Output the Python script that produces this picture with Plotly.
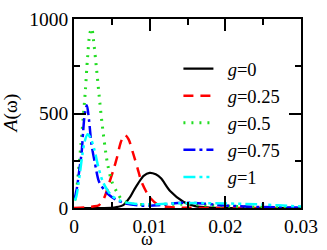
import plotly.graph_objects as go

# ---- data ----
w_g0 = [0, 0.004, 0.0055, 0.0065, 0.0074, 0.008, 0.0085, 0.0092, 0.01, 0.0108, 0.0115, 0.0127, 0.0145, 0.016, 0.018, 0.02, 0.03]
a_g0 = [0, 0, 4, 15, 57, 100, 132, 170, 186, 178, 157, 90, 32, 10, 2, 0, 0]

w_g025 = [0, 0.0015, 0.0025, 0.0033, 0.004, 0.0046, 0.0052, 0.0057, 0.0062, 0.0067, 0.0072, 0.0078, 0.0084, 0.0089, 0.0095, 0.01, 0.011, 0.012, 0.014, 0.02, 0.03]
a_g025 = [0, 3, 8, 15, 55, 126, 200, 270, 350, 387, 365, 291, 210, 141, 90, 57, 20, 8, 2, 0, 0]

w_g05 = [0.0001, 0.0003, 0.0006, 0.0009, 0.0012, 0.0015, 0.0018, 0.0021, 0.00235, 0.0026, 0.003, 0.0033, 0.0037, 0.0044, 0.005, 0.0057, 0.0063, 0.007, 0.008, 0.01, 0.012, 0.015, 0.018, 0.02, 0.025, 0.03]
a_g05 = [40, 80, 200, 330, 470, 620, 800, 925, 950, 880, 727, 603, 450, 241, 140, 82, 45, 28, 20, 18, 20, 20, 14, 10, 4, 2]

w_g075 = [0.0001, 0.0004, 0.0007, 0.001, 0.0012, 0.0014, 0.0017, 0.002, 0.0023, 0.0028, 0.0033, 0.004, 0.0046, 0.0055, 0.007, 0.009, 0.011, 0.013, 0.015, 0.017, 0.019, 0.022, 0.025, 0.03]
a_g075 = [50, 110, 200, 290, 400, 490, 543, 460, 340, 230, 140, 95, 70, 45, 22, 12, 14, 24, 28, 24, 16, 9, 5, 2]

w_g1 = [0.0001, 0.0003, 0.0006, 0.0008, 0.0011, 0.0014, 0.0018, 0.0022, 0.0027, 0.0032, 0.0038, 0.0044, 0.005, 0.006, 0.007, 0.009, 0.011, 0.013, 0.016, 0.02, 0.024, 0.027, 0.03]
a_g1 = [40, 60, 130, 190, 280, 350, 390, 370, 308, 220, 140, 95, 65, 40, 28, 20, 20, 24, 26, 24, 20, 14, 8]

series_names = ["<i>g</i>=0", "<i>g</i>=0.25", "<i>g</i>=0.5", "<i>g</i>=0.75", "<i>g</i>=1"]
x_tickvals = [0, 0.01, 0.02, 0.03]
x_ticktext = ["0", "0.01", "0.02", "0.03"]
y_tickvals = [0, 500, 1000]
y_ticktext = ["0", "500", "1000"]

FONT = "Times New Roman, Liberation Serif, serif"
FS = 19.5

styles = [
    dict(color="black", dash="solid", width=2.2),
    dict(color="red", dash="10px,7px", width=2.5),
    dict(color="#22dd22", dash="2px,6px", width=3),
    dict(color="blue", dash="12px,4px,3px,4px", width=2.5),
    dict(color="cyan", dash="12px,4px,3px,4px,3px,4px", width=2.5),
]
xs = [w_g0, w_g025, w_g05, w_g075, w_g1]
ys = [a_g0, a_g025, a_g05, a_g075, a_g1]

fig = go.Figure()
for x, y, name, st in zip(xs, ys, series_names, styles):
    fig.add_trace(go.Scatter(x=x, y=y, mode="lines", name="\u2002" + name,
                             line=dict(shape="spline", smoothing=0.8, **st)))

axis_common = dict(
    showgrid=False, zeroline=False, showline=True, linecolor="black", linewidth=1.5,
    mirror="allticks", ticks="inside", ticklen=12, tickwidth=1.5, tickcolor="black",
    tickfont=dict(family=FONT, size=FS, color="black"),
)
fig.update_xaxes(range=[0, 0.03], tickvals=x_tickvals, ticktext=x_ticktext,
                 minor=dict(dtick=0.005, ticks="inside", ticklen=6, tickwidth=1.5, tickcolor="black"),
                 **axis_common)
fig.update_yaxes(range=[0, 1000], tickvals=y_tickvals, ticktext=y_ticktext,
                 minor=dict(dtick=250, ticks="inside", ticklen=6, tickwidth=1.5, tickcolor="black"),
                 **axis_common)

fig.add_annotation(text="ω", xref="paper", yref="paper", x=0.322, y=0, yshift=-31,
                   xanchor="center", yanchor="middle", borderpad=0,
                   showarrow=False, font=dict(family=FONT, size=18, color="black"))
fig.add_annotation(text="<i>A</i>(ω)", xref="paper", yref="paper", x=0, y=0.5, xshift=-64,
                   xanchor="center", yanchor="middle",
                   textangle=-90, showarrow=False, font=dict(family=FONT, size=FS, color="black"))

fig.update_layout(
    width=327, height=250,
    margin=dict(l=74, r=19, t=9, b=42),
    paper_bgcolor="white", plot_bgcolor="white",
    font=dict(family=FONT, size=FS, color="black"),
    legend=dict(x=0.46, y=0.835, xanchor="left", yanchor="top", bgcolor="rgba(0,0,0,0)",
                font=dict(family=FONT, size=18.5, color="black"), tracegroupgap=0),
)

fig.write_html("out.html", config={"displayModeBar": False},
               post_script="document.body.style.margin='0';")
